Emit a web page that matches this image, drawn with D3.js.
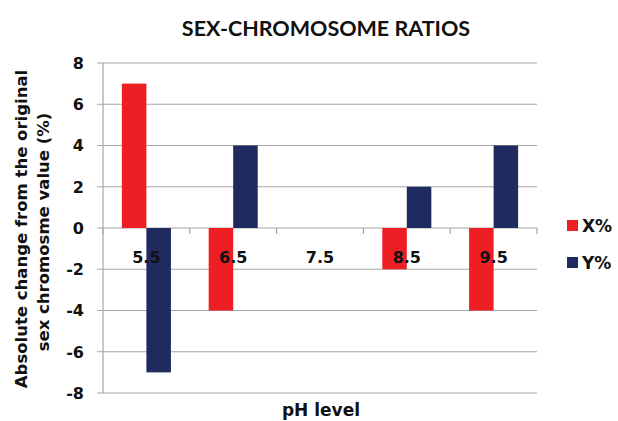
<!DOCTYPE html>
<html>
<head>
<meta charset="utf-8">
<script src="https://cdn.jsdelivr.net/npm/d3@7"></script>
<style>
  body { margin: 0; background: #fff; }
  text { font-family: "DejaVu Sans", sans-serif; font-weight: bold; fill: #111; }
</style>
</head>
<body>
<svg></svg>
<script>
const [WIDTH, HEIGHT] = [618, 421]

const phLevels = ["5.5", "6.5", "7.5", "8.5", "9.5"]
const seriesNames = ["X%", "Y%"]
const xValues = [7, -4, 0, -2, -4]
const yValues = [-7, 4, 0, 2, 4]
const yTicks = [-8, -6, -4, -2, 0, 2, 4, 6, 8]
const colors = ["#ED1F24", "#1F2A5E"]

const rows = phLevels.map((p, i) => ({ ph: p, vals: [xValues[i], yValues[i]] }))

const svg = d3.select("svg").attr("width", WIDTH).attr("height", HEIGHT)
const m = { left: 103, right: 537, top: 63, bottom: 393 }

const x0 = d3.scaleBand().domain(phLevels).range([m.left, m.right]).padding(0)
const x1 = d3.scaleBand().domain(seriesNames).range([0, x0.bandwidth()])
    .paddingInner(0).paddingOuter(0.77)
const y = d3.scaleLinear().domain([-8, 8]).range([m.bottom, m.top])

// gridlines + y ticks
svg.append("g").selectAll("line").data(yTicks).enter().append("line")
    .attr("x1", m.left - 6).attr("x2", m.right)
    .attr("y1", d => y(d)).attr("y2", d => y(d))
    .attr("stroke", "#a6a6a6").attr("stroke-width", 1.2)

svg.append("line").attr("x1", m.left).attr("x2", m.left)
    .attr("y1", m.top).attr("y2", m.bottom).attr("stroke", "#a6a6a6").attr("stroke-width", 1.2)

svg.append("g").selectAll("text").data(yTicks).enter().append("text")
    .attr("x", 84).attr("y", d => y(d)).attr("dy", "0.36em")
    .attr("text-anchor", "end").style("font-size", "16px")
    .text(d => d)

// bars
const groups = svg.append("g").selectAll("g").data(rows).enter().append("g")
    .attr("transform", d => `translate(${x0(d.ph)},0)`)
groups.selectAll("rect").data(d => d.vals.map((v, i) => ({ v, i }))).enter().append("rect")
    .attr("x", d => x1(seriesNames[d.i]))
    .attr("width", x1.bandwidth())
    .attr("y", d => y(Math.max(0, d.v)))
    .attr("height", d => Math.abs(y(d.v) - y(0)))
    .attr("fill", d => colors[d.i])

// category ticks at zero line
const bounds = phLevels.map(p => x0(p)).concat([m.right])
svg.append("g").selectAll("line").data(bounds).enter().append("line")
    .attr("x1", d => d).attr("x2", d => d)
    .attr("y1", y(0)).attr("y2", y(0) + 6)
    .attr("stroke", "#a6a6a6").attr("stroke-width", 1.2)

svg.append("g").selectAll("text").data(phLevels).enter().append("text")
    .attr("x", d => x0(d) + x0.bandwidth() / 2).attr("y", 263)
    .attr("text-anchor", "middle").style("font-size", "16px")
    .text(d => d)

// titles
svg.append("text").attr("x", 326).attr("y", 36).attr("text-anchor", "middle")
    .style("font-family", "Lato, sans-serif")
    .style("font-size", "21.5px").text("SEX-CHROMOSOME RATIOS")
svg.append("text").attr("x", 321).attr("y", 416).attr("text-anchor", "middle")
    .style("font-size", "17px").text("pH level")

const yt = svg.append("text").attr("transform", "translate(27,229) rotate(-90)")
    .attr("text-anchor", "middle").style("font-size", "16.5px")
yt.append("tspan").attr("x", 0).attr("dy", 0).text("Absolute change from the original")
yt.append("tspan").attr("x", -3).attr("dy", 22).text("sex chromosme value (%)")

// legend
const leg = svg.append("g").selectAll("g").data(seriesNames).enter().append("g")
    .attr("transform", (d, i) => `translate(567,${220 + i * 37})`)
leg.append("rect").attr("width", 11).attr("height", 11).attr("fill", (d, i) => colors[i])
leg.append("text").attr("x", 15).attr("y", 12).style("font-size", "17px").text(d => d)
</script>
</body>
</html>
